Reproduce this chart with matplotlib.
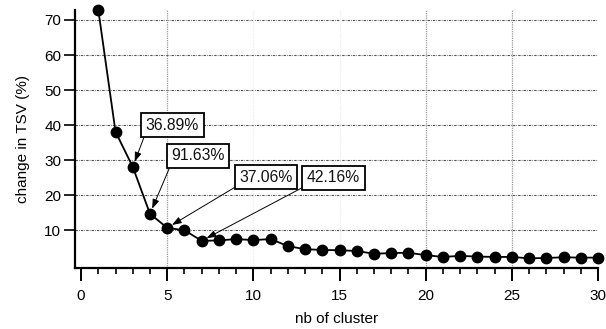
import matplotlib
matplotlib.use("Agg")
import matplotlib.pyplot as plt
from matplotlib.ticker import MultipleLocator

plt.rcParams['font.family'] = ['Liberation Sans', 'DejaVu Sans']

# change in total sum of variance per number of clusters
n_cluster = list(range(1, 31))
tsv_change = [72.9, 38.1, 28.1, 14.7, 10.7, 10.0, 7.0, 7.1, 7.5, 7.2,
              7.5, 5.5, 4.6, 4.4, 4.3, 4.1, 3.3, 3.5, 3.6, 2.9,
              2.4, 2.7, 2.5, 2.4, 2.4, 2.0, 2.1, 2.3, 2.2, 2.2]

# labelled points: (cluster number, label, text position)
ann_x = [3, 4, 5, 7]
ann_labels = ["36.89%", "91.63%", "37.06%", "42.16%"]
ann_text_xy = [(5.30, 40.0), (6.79, 31.2), (10.74, 25.2), (14.65, 25.0)]

fig = plt.figure(figsize=(6.06, 3.29), dpi=100)
ax = fig.add_axes([0.1238, 0.1839, 0.9868 - 0.1238, 0.9696 - 0.1839])

# grid
for yv in range(10, 71, 10):
    ax.axhline(yv, color='#555555', lw=0.8, ls=(0, (2.2, 1.0, 0.6, 1.0)), zorder=0)
for xv in [5, 10, 15, 20, 25]:
    faint = xv in (10, 15)
    ax.axvline(xv, color='#eeeeee' if faint else '#9a9a9a', lw=0.9,
               ls=(0, (1, 0.8)), zorder=0)

ax.plot(n_cluster, tsv_change, color='black', lw=1.3, marker='o',
        markersize=7.5, markerfacecolor='black', markeredgecolor='black',
        clip_on=False, zorder=3)

for xi, lab, txy in zip(ann_x, ann_labels, ann_text_xy):
    ax.annotate(lab, xy=(xi, tsv_change[xi - 1]), xytext=txy,
                ha='center', va='center', fontsize=11.3, color='#111111',
                bbox=dict(boxstyle='square,pad=0.3', fc='white', ec='black', lw=1.3),
                arrowprops=dict(arrowstyle='-|>,head_length=0.5,head_width=0.18',
                                color='black', lw=0.7, relpos=(0, 0),
                                shrinkA=0, shrinkB=4),
                zorder=4)

ax.set_xlim(-0.35, 30)
ax.set_ylim(-0.9, 72.85)
ax.xaxis.set_major_locator(MultipleLocator(5))
ax.xaxis.set_minor_locator(MultipleLocator(1))
ax.set_yticks(range(10, 71, 10))

for side in ['top', 'right']:
    ax.spines[side].set_visible(False)
for side in ['left', 'bottom']:
    ax.spines[side].set_linewidth(1.6)

ax.tick_params(axis='x', which='major', direction='out', length=9, width=1.4,
               labelsize=11, pad=6)
ax.tick_params(axis='x', which='minor', direction='out', length=4.5, width=1.2)
ax.tick_params(axis='y', which='major', direction='out', length=8, width=1.2,
               labelsize=11, pad=2)

ax.set_xlabel("nb of cluster", fontsize=11, labelpad=6)
ax.set_ylabel("change in TSV (%)", fontsize=11, labelpad=10)

fig.savefig("out.png", dpi=100)
